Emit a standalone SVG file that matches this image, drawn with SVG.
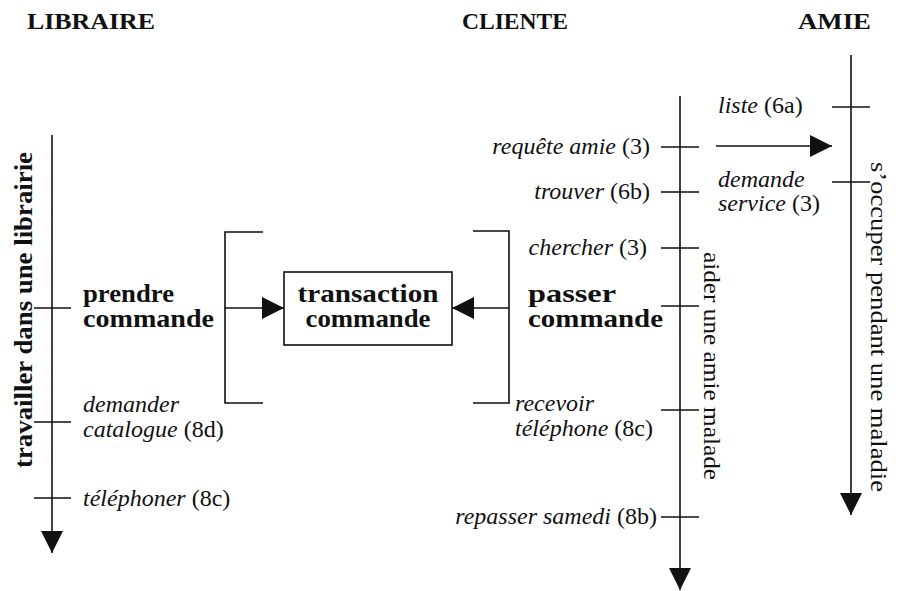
<svg xmlns="http://www.w3.org/2000/svg" width="909" height="591" viewBox="0 0 909 591">
<style>
.hd{font-family:"Liberation Serif","Times New Roman",serif;font-weight:bold;font-size:24px;fill:#111}
.b{font-family:"Liberation Serif","Times New Roman",serif;font-weight:bold;font-size:25px;fill:#111}
.t{font-family:"Liberation Serif","Times New Roman",serif;font-size:24px;fill:#111}
.i{font-style:italic}
.ln{stroke:#111;stroke-width:1.6;fill:none}
</style>
<defs>
<marker id="ah" viewBox="0 0 22 22" refX="22" refY="11" markerWidth="22" markerHeight="22" markerUnits="userSpaceOnUse" orient="auto">
<path d="M0,0 L22,11 L0,22 z" fill="#111"/>
</marker>
</defs>
<rect width="909" height="591" fill="#fff"/>
<g id="headers">
<text class="hd" x="27" y="29" textLength="128" lengthAdjust="spacingAndGlyphs">LIBRAIRE</text>
<text class="hd" x="462" y="29" textLength="106" lengthAdjust="spacingAndGlyphs">CLIENTE</text>
<text class="hd" x="798" y="29" textLength="73" lengthAdjust="spacingAndGlyphs">AMIE</text>
</g>
<g id="connectors">
<line class="ln" x1="52" y1="135" x2="52" y2="553" marker-end="url(#ah)"/>
<line class="ln" x1="680" y1="96" x2="680" y2="590" marker-end="url(#ah)"/>
<line class="ln" x1="851" y1="55" x2="851" y2="515" marker-end="url(#ah)"/>
<line class="ln" x1="225" y1="308" x2="284" y2="308" marker-end="url(#ah)"/>
<line class="ln" x1="509" y1="308" x2="452" y2="308" marker-end="url(#ah)"/>
<line class="ln" x1="716" y1="146" x2="832" y2="146" marker-end="url(#ah)"/>
<polyline class="ln" points="263,232 225,232 225,403 263,403"/>
<polyline class="ln" points="473,231 509,231 509,403 473,403"/>
</g>
<g id="lane-libraire">
<text class="b" transform="translate(32,310) rotate(-90)" text-anchor="middle" textLength="316" lengthAdjust="spacingAndGlyphs">travailler dans une librairie</text>
</g>
<g id="lane-cliente">
<text class="t" transform="translate(704,252) rotate(90)" textLength="228" lengthAdjust="spacingAndGlyphs">aider une amie malade</text>
</g>
<g id="lane-amie">
<text class="t" transform="translate(871,162) rotate(90)" textLength="330" lengthAdjust="spacingAndGlyphs">s’occuper pendant une maladie</text>
</g>
<g id="transaction">
<rect class="ln" x="284" y="272" width="168" height="73"/>
<text class="b" x="368" y="302" text-anchor="middle" textLength="141" lengthAdjust="spacingAndGlyphs">transaction</text>
<text class="b" x="368" y="327" text-anchor="middle" textLength="125" lengthAdjust="spacingAndGlyphs">commande</text>
</g>
<g id="prendre-commande">
<line class="ln" x1="34" y1="308" x2="71" y2="308"/>
<text class="b" x="83" y="302" textLength="91" lengthAdjust="spacingAndGlyphs">prendre</text>
<text class="b" x="83" y="327" textLength="131" lengthAdjust="spacingAndGlyphs">commande</text>
</g>
<g id="demander-catalogue">
<line class="ln" x1="34" y1="422" x2="71" y2="422"/>
<text class="t i" x="83" y="412">demander</text>
<text class="t" x="83" y="437"><tspan class="i">catalogue</tspan> (8d)</text>
</g>
<g id="telephoner">
<line class="ln" x1="34" y1="498" x2="71" y2="498"/>
<text class="t" x="83" y="506"><tspan class="i">téléphoner</tspan> (8c)</text>
</g>
<g id="requete-amie">
<line class="ln" x1="661" y1="147" x2="699" y2="147"/>
<text class="t" x="650" y="154" text-anchor="end"><tspan class="i">requête amie</tspan> (3)</text>
</g>
<g id="trouver">
<line class="ln" x1="661" y1="192" x2="699" y2="192"/>
<text class="t" x="650" y="199" text-anchor="end"><tspan class="i">trouver</tspan> (6b)</text>
</g>
<g id="chercher">
<line class="ln" x1="661" y1="248" x2="699" y2="248"/>
<text class="t" x="647" y="255" text-anchor="end"><tspan class="i">chercher</tspan> (3)</text>
</g>
<g id="passer-commande">
<line class="ln" x1="661" y1="306" x2="699" y2="306"/>
<text class="b" x="528" y="302" textLength="88" lengthAdjust="spacingAndGlyphs">passer</text>
<text class="b" x="528" y="327" textLength="135" lengthAdjust="spacingAndGlyphs">commande</text>
</g>
<g id="recevoir-telephone">
<line class="ln" x1="661" y1="410" x2="699" y2="410"/>
<text class="t i" x="515" y="411">recevoir</text>
<text class="t" x="515" y="436"><tspan class="i">téléphone</tspan> (8c)</text>
</g>
<g id="repasser-samedi">
<line class="ln" x1="661" y1="517" x2="699" y2="517"/>
<text class="t" x="657" y="524" text-anchor="end"><tspan class="i">repasser samedi</tspan> (8b)</text>
</g>
<g id="liste">
<line class="ln" x1="832" y1="107" x2="870" y2="107"/>
<text class="t" x="718" y="113"><tspan class="i">liste</tspan> (6a)</text>
</g>
<g id="demande-service">
<line class="ln" x1="832" y1="182" x2="870" y2="182"/>
<text class="t i" x="718" y="187">demande</text>
<text class="t" x="718" y="211"><tspan class="i">service</tspan> (3)</text>
</g>
</svg>
